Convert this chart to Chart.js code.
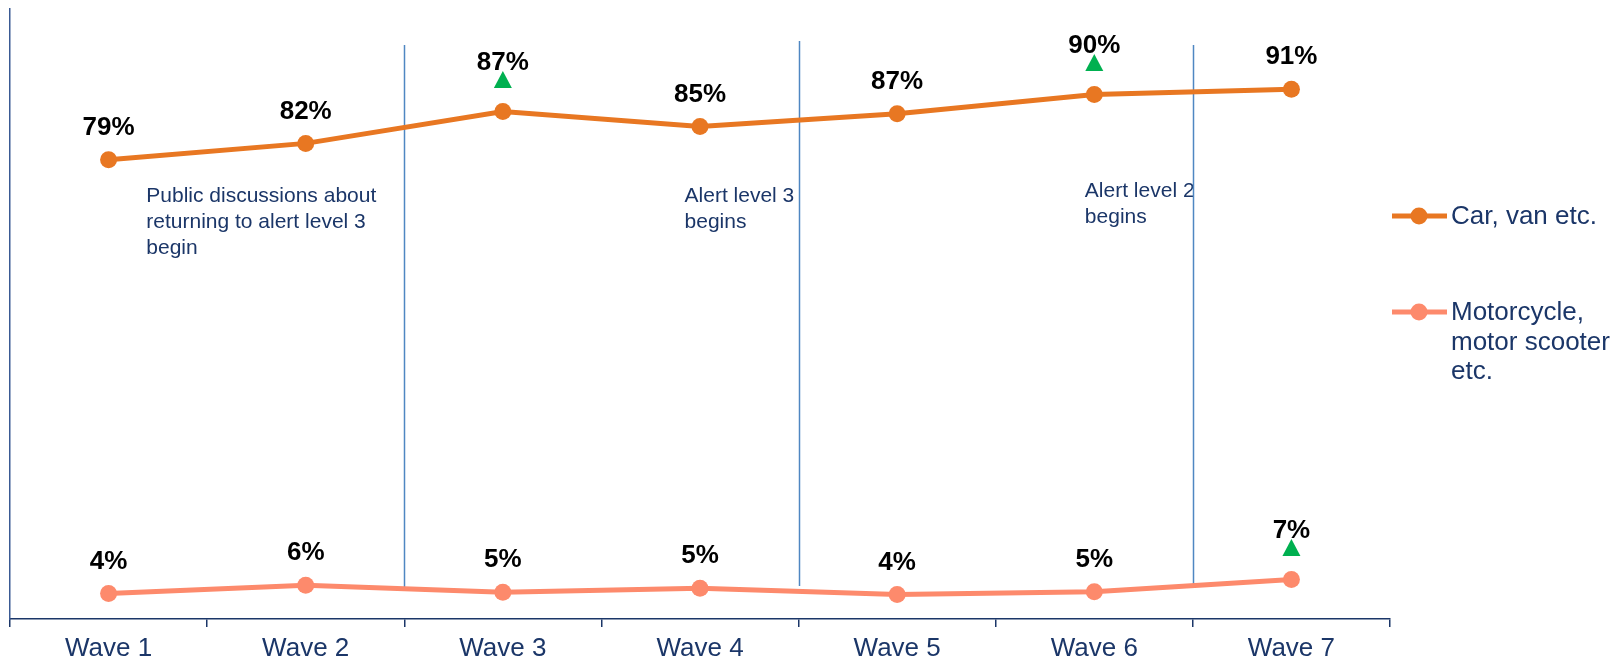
<!DOCTYPE html>
<html><head><meta charset="utf-8">
<script src="https://cdn.jsdelivr.net/npm/chart.js@4/dist/chart.umd.min.js"></script>
<style>html,body{margin:0;padding:0;background:#fff}#wrap{width:1617px;height:662px;position:relative}canvas{display:block}</style>
</head><body><div id="wrap"><canvas id="c" width="1617" height="662"></canvas></div>
<script>
const categories = ['Wave 1','Wave 2','Wave 3','Wave 4','Wave 5','Wave 6','Wave 7'];
const carValues = [79.0, 81.8, 87.3, 84.7, 86.9, 90.2, 91.1];
const motoValues = [4.4, 5.8, 4.6, 5.3, 4.2, 4.7, 6.8];
const carLabels = ['79%','82%','87%','85%','87%','90%','91%'];
const motoLabels = ['4%','6%','5%','5%','4%','5%','7%'];
const carSignificant = [false,false,true,false,false,true,false];
const motoSignificant = [false,false,false,false,false,false,true];
const seriesNames = [['Car, van etc.'], ['Motorcycle,','motor scooter','etc.']];
const eventNotes = [
  ['Public discussions about','returning to alert level 3','begin'],
  ['Alert level 3','begins'],
  ['Alert level 2','begins']
];
const eventAfterIndex = [1, 3, 5];

const FONT = '"Liberation Sans", Arial, sans-serif';
const NAVY = '#1B3668';
const CAR = '#E87722';
const MOTO = '#FD8A6C';
const GREEN = '#00B050';
const DIVIDER = '#4F87C2';

const annotPlugin = {
  id: 'annot',
  beforeDatasetsDraw(chart) {
    const ctx = chart.ctx, x = chart.scales.x;
    const noteLayout = [{dx: -258, base: 202}, {dx: -114, base: 202}, {dx: -108, base: 197}];
    ctx.save();
    ctx.font = '21px ' + FONT;
    ctx.fillStyle = NAVY;
    ctx.textAlign = 'left';
    ctx.textBaseline = 'alphabetic';
    eventNotes.forEach((lines, k) => {
      const i = eventAfterIndex[k];
      const bx = (x.getPixelForValue(i) + x.getPixelForValue(i + 1)) / 2;
      lines.forEach((t, j) => ctx.fillText(t, bx + noteLayout[k].dx, noteLayout[k].base + j * 26));
    });
    const ext = [[45, 590], [41, 586], [45, 588]];
    ctx.strokeStyle = DIVIDER;
    ctx.lineWidth = 1.5;
    eventAfterIndex.forEach((i, k) => {
      const bx = Math.round((x.getPixelForValue(i) + x.getPixelForValue(i + 1)) / 2) + 0.5;
      ctx.beginPath();
      ctx.moveTo(bx, ext[k][0]);
      ctx.lineTo(bx, ext[k][1]);
      ctx.stroke();
    });
    ctx.restore();
  },
  afterDatasetsDraw(chart) {
    const ctx = chart.ctx;
    const sets = [[carLabels, carSignificant], [motoLabels, motoSignificant]];
    ctx.save();
    ctx.font = 'bold 26px ' + FONT;
    ctx.textAlign = 'center';
    ctx.textBaseline = 'middle';
    sets.forEach(([labels, sig], d) => {
      const meta = chart.getDatasetMeta(d);
      meta.data.forEach((pt, i) => {
        const off = sig[i] ? 49 : 32;
        ctx.fillStyle = '#000';
        ctx.fillText(labels[i], pt.x, pt.y - off);
        if (sig[i]) {
          const cy = pt.y - 32;
          ctx.fillStyle = GREEN;
          ctx.beginPath();
          ctx.moveTo(pt.x, cy - 8.5);
          ctx.lineTo(pt.x + 9, cy + 8.5);
          ctx.lineTo(pt.x - 9, cy + 8.5);
          ctx.closePath();
          ctx.fill();
        }
      });
    });
    ctx.restore();
  },
  afterDraw(chart) {
    const ctx = chart.ctx;
    const colors = [CAR, MOTO];
    const ys = [216, 312];
    ctx.save();
    ctx.font = '26px ' + FONT;
    ctx.textAlign = 'left';
    ctx.textBaseline = 'middle';
    seriesNames.forEach((lines, k) => {
      const yy = ys[k];
      ctx.strokeStyle = colors[k];
      ctx.lineWidth = 5;
      ctx.beginPath();
      ctx.moveTo(1392, yy);
      ctx.lineTo(1447, yy);
      ctx.stroke();
      ctx.fillStyle = colors[k];
      ctx.beginPath();
      ctx.arc(1419, yy, 8.5, 0, Math.PI * 2);
      ctx.fill();
      ctx.fillStyle = NAVY;
      lines.forEach((t, j) => ctx.fillText(t, 1451, yy + 1 + j * 29.5));
    });
    ctx.restore();
  }
};

Chart.defaults.font.family = FONT;

new Chart(document.getElementById('c'), {
  type: 'line',
  data: {
    labels: categories,
    datasets: [
      {label: 'Car, van etc.', data: carValues, borderColor: CAR, backgroundColor: CAR,
       borderWidth: 5, pointRadius: 8.5, pointHoverRadius: 8.5, pointBorderWidth: 0,
       pointBackgroundColor: CAR, tension: 0},
      {label: 'Motorcycle, motor scooter etc.', data: motoValues, borderColor: MOTO, backgroundColor: MOTO,
       borderWidth: 5, pointRadius: 8.5, pointHoverRadius: 8.5, pointBorderWidth: 0,
       pointBackgroundColor: MOTO, tension: 0}
    ]
  },
  options: {
    responsive: false,
    animation: false,
    devicePixelRatio: 1,
    layout: {padding: {left: 0, right: 227, top: 8, bottom: 0}},
    plugins: {legend: {display: false}, tooltip: {enabled: false}},
    scales: {
      x: {
        offset: true,
        grid: {display: true, offset: true, drawOnChartArea: false, drawTicks: true, tickLength: 8, color: NAVY, lineWidth: 1.5},
        border: {display: true, color: NAVY, width: 1.5},
        ticks: {color: NAVY, font: {size: 26, family: FONT}, padding: 6, maxRotation: 0, autoSkip: false},
        afterFit(s) { s.height = 43; }
      },
      y: {
        min: 0, max: 105,
        grid: {display: false},
        border: {display: true, color: '#3A5A94', width: 1.5, dash: [2, 2]},
        ticks: {display: false},
        afterFit(s) { s.width = 10; }
      }
    }
  },
  plugins: [annotPlugin]
});
</script>
</body></html>
